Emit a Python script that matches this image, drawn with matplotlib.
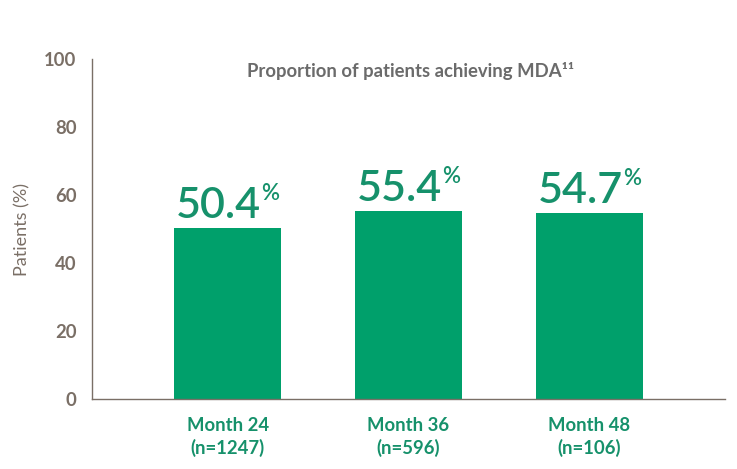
import matplotlib
matplotlib.use("Agg")
import matplotlib.pyplot as plt
import matplotlib.transforms as mtransforms

# data
months = ["Month 24\n(n=1247)", "Month 36\n(n=596)", "Month 48\n(n=106)"]
values = [50.4, 55.4, 54.7]
yticks = [0, 20, 40, 60, 80, 100]

bar_color = "#00a06b"
text_green = "#16916b"
gray = "#7a6f66"

plt.rcParams["font.family"] = ["Lato", "DejaVu Sans"]

fig = plt.figure(figsize=(7.37, 4.69), dpi=100)
ax = fig.add_axes([0.1248, 0.1493, 0.859, 0.7247])

x = list(range(len(values)))
ax.bar(x, values, width=0.59, color=bar_color)

ax.set_xlim(-0.75, 2.75)
ax.set_ylim(0, 100)
ax.set_yticks(yticks)
ax.set_yticklabels([str(t) for t in yticks], fontsize=13.3, fontweight="bold", color=gray)
ax.set_xticks(x)
ax.set_xticklabels(months, fontsize=13.3, fontweight="bold", color=text_green, linespacing=1.3)
ax.tick_params(axis="both", length=0)
ax.tick_params(axis="y", pad=11)
ax.tick_params(axis="x", pad=13)

for s in ["top", "right"]:
    ax.spines[s].set_visible(False)
for s in ["left", "bottom"]:
    ax.spines[s].set_color(gray)
    ax.spines[s].set_linewidth(1.0)

ax.set_ylabel("Patients (%)", fontsize=13, color=gray, labelpad=10)

ax.text(0.504, 0.965, "Proportion of patients achieving MDA\u00b9\u00b9", transform=ax.transAxes,
        ha="center", va="center", fontsize=13.3, fontweight="bold", color="#6b6b6b")

# value labels: big number + small superscript percent, group centred on bar
fig.canvas.draw()
renderer = fig.canvas.get_renderer()
for xi, v in zip(x, values):
    num = ax.text(xi, v, f"{v:.1f}", ha="left", va="baseline", fontsize=31,
                  fontweight="semibold", color=text_green)
    pct = ax.text(xi, v, "%", ha="left", va="baseline", fontsize=16,
                  fontweight="semibold", color=text_green)
    wn = num.get_window_extent(renderer).width
    wp = pct.get_window_extent(renderer).width
    gap = 0
    total = wn + wp + gap
    num.set_transform(ax.transData + mtransforms.ScaledTranslation(-total / 2 / 100, 10 / 100, fig.dpi_scale_trans))
    pct.set_transform(ax.transData + mtransforms.ScaledTranslation((-total / 2 + wn + gap) / 100, 28 / 100, fig.dpi_scale_trans))

plt.savefig("out.png", dpi=100)
